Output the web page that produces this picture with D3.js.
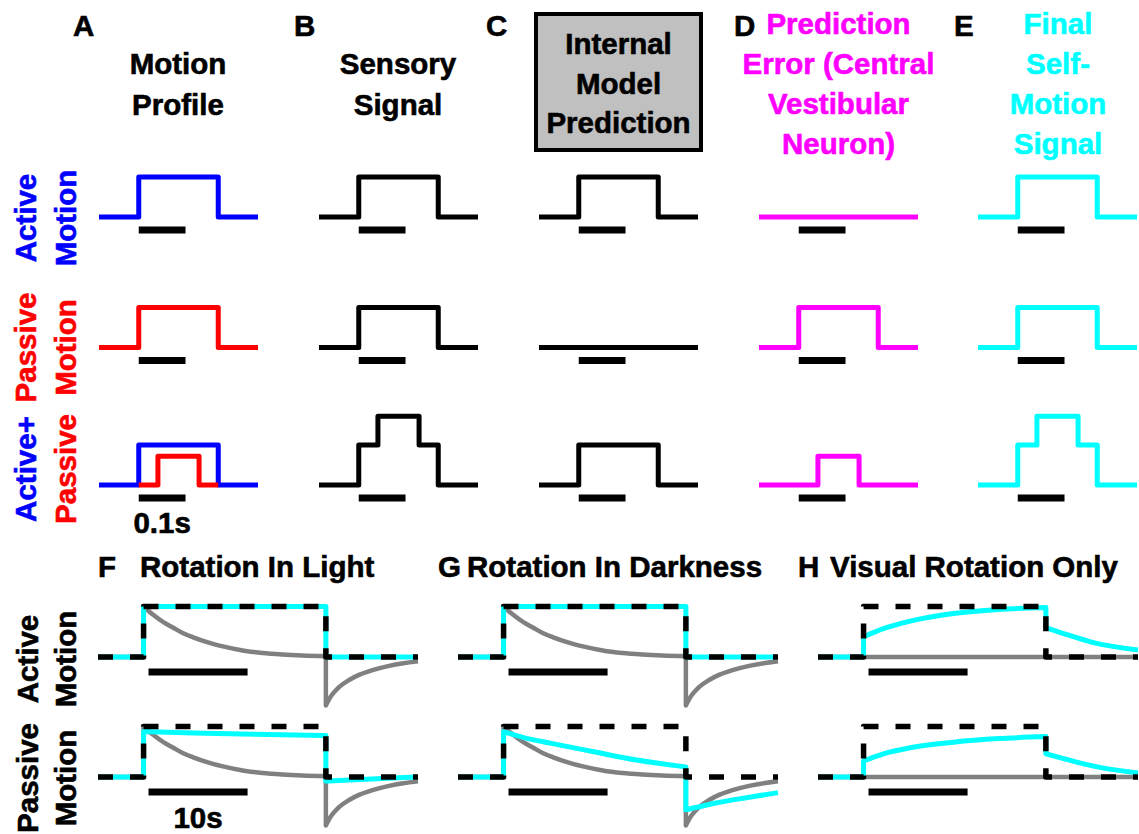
<!DOCTYPE html>
<html>
<head>
<meta charset="utf-8">
<script src="https://cdn.jsdelivr.net/npm/d3@7"></script>
<style>
  body { margin: 0; background: #fff; }
  svg { display: block; font-family: "Liberation Sans", Arial, Helvetica, sans-serif; font-weight: bold; }
  text { stroke-width: 0.6px; }
</style>
</head>
<body>
<script>
// ---------- Top schematic (A–E): step responses, time in ms ----------
const topDomainMs = [0, 340];
const scaleBarMs = [85, 185];                // 0.1 s
const activeStep = [[0, 0], [85, 0], [85, 1], [255, 1], [255, 0], [340, 0]];
const passiveInActive = [[85, 0], [126, 0], [126, 0.72], [214, 0.72], [214, 0], [255, 0]];
const passiveOnly = [[0, 0], [126, 0], [126, 0.72], [214, 0.72], [214, 0], [340, 0]];
const combinedStep = [[0, 0], [85, 0], [85, 1], [126, 1], [126, 1.72], [214, 1.72], [214, 1], [255, 1], [255, 0], [340, 0]];
const flatTrace = [[0, 0], [340, 0]];

const topColumnLetters = ["A", "B", "C", "D", "E"];
const topColumnTitles = [
  ["Motion", "Profile"],
  ["Sensory", "Signal"],
  ["Internal", "Model", "Prediction"],
  ["Prediction", "Error (Central", "Vestibular", "Neuron)"],
  ["Final", "Self-", "Motion", "Signal"]
];
const topRowLabels = [["Active", "Motion"], ["Passive", "Motion"], ["Active+", "Passive"]];

// ---------- Bottom schematic (F–H): rotation responses, time in s ----------
const rotDomainS = [-4.6, 27.7];
const rotScaleBarS = [0.5, 10.5];            // 10 s
const rotProfile = [[-4.6, 0], [0, 0], [0, 1], [18.4, 1], [18.4, 0], [27.7, 0]];
const canalAfferent = [[-4.6, 0], [0, 0], [0, 1], [0.5, 0.91], [1, 0.83], [2, 0.69], [3, 0.58], [4, 0.47],
  [5, 0.39], [6, 0.32], [7, 0.26], [8, 0.21], [10, 0.13], [12, 0.08], [14, 0.05], [16, 0.03], [18.4, 0.015],
  [18.4, -0.96], [18.9, -0.78], [19.7, -0.6], [20.8, -0.45], [21.8, -0.35], [23.1, -0.26], [24.9, -0.17], [27.7, -0.085]];
const noCanalSignal = [[-4.6, 0], [27.7, 0]];
const selfMotionPassiveLight = [[-4.6, 0], [0, 0], [0, 0.9], [5, 0.87], [10, 0.85], [18.4, 0.82],
  [18.4, -0.08], [23, -0.04], [27.7, 0]];
const selfMotionPassiveDark = [[-4.6, 0], [0, 0], [0, 0.9], [2, 0.78], [4.7, 0.67], [9.1, 0.5], [13.6, 0.33], [18.4, 0.2],
  [18.4, -0.65], [19.5, -0.6], [21.3, -0.52], [24.5, -0.41], [27.7, -0.31]];
const visualOnlyActive = [[-4.6, 0], [0, 0], [0, 0.4], [2, 0.56], [4.7, 0.71], [9.1, 0.86], [13.6, 0.94], [18.4, 0.98],
  [18.4, 0.58], [20.1, 0.47], [23.1, 0.29], [27.7, 0.14]];
const visualOnlyPassive = [[-4.6, 0], [0, 0], [0, 0.32], [2, 0.46], [4.7, 0.58], [9.1, 0.69], [13.6, 0.76], [18.4, 0.8],
  [18.4, 0.46], [20.1, 0.37], [23.1, 0.22], [27.7, 0.08]];

const bottomLetters = ["F", "G", "H"];
const bottomTitles = ["Rotation In Light", "Rotation In Darkness", "Visual Rotation Only"];
const bottomRowLabels = [["Active", "Motion"], ["Passive", "Motion"]];

// ---------- colours ----------
const BLUE = "#0000ff", RED = "#ff0000", MAGENTA = "#ff00ff", CYAN = "#00ffff", GRAY = "#808080", BLACK = "#000";

// ---------- layout ----------
const W = 1139, H = 834;
const FONT = 29.5;
const topColX = [99, 319, 539, 759, 978], topColW = 159;
const topRowBase = [217, 347.5, 485], topAmp = 40;
const botColX = [98, 458, 818], botColW = 320;
const botRowBase = [657, 777], botAmp = 50.5;

const svg = d3.select("body").append("svg").attr("width", W).attr("height", H);

function label(x, y, s, color, anchor, transform) {
  const t = svg.append("text").attr("font-size", FONT).attr("fill", color).attr("stroke", color)
    .attr("text-anchor", anchor || "start").text(s);
  if (transform) t.attr("transform", transform); else t.attr("x", x).attr("y", y);
  return t;
}

// cells of the top grid: [row][col] -> traces drawn in order
const topCells = [
  [[{ d: activeStep, c: BLUE }], [{ d: activeStep, c: BLACK }], [{ d: activeStep, c: BLACK }], [{ d: flatTrace, c: MAGENTA }], [{ d: activeStep, c: CYAN }]],
  [[{ d: activeStep, c: RED }], [{ d: activeStep, c: BLACK }], [{ d: flatTrace, c: BLACK }], [{ d: activeStep, c: MAGENTA }], [{ d: activeStep, c: CYAN }]],
  [[{ d: activeStep, c: BLUE }, { d: passiveInActive, c: RED }], [{ d: combinedStep, c: BLACK }], [{ d: activeStep, c: BLACK }], [{ d: passiveOnly, c: MAGENTA }], [{ d: combinedStep, c: CYAN }]]
];

topCells.forEach((row, ri) => {
  row.forEach((traces, ci) => {
    const x = d3.scaleLinear().domain(topDomainMs).range([topColX[ci], topColX[ci] + topColW]);
    const y = d3.scaleLinear().domain([0, 1]).range([topRowBase[ri], topRowBase[ri] - topAmp]);
    const line = d3.line().x(p => x(p[0])).y(p => y(p[1]));
    traces.forEach(t => {
      svg.append("path").attr("d", line(t.d)).attr("fill", "none").attr("stroke", t.c)
        .attr("stroke-width", 5).attr("stroke-linejoin", "round").attr("stroke-linecap", "butt");
    });
    // 0.1 s scale bar
    svg.append("line").attr("x1", x(scaleBarMs[0])).attr("x2", x(scaleBarMs[1]))
      .attr("y1", topRowBase[ri] + 13).attr("y2", topRowBase[ri] + 13)
      .attr("stroke", BLACK).attr("stroke-width", 7);
    if (ri === 2 && ci === 0) {
      label(x((scaleBarMs[0] + scaleBarMs[1]) / 2), 533, "0.1s", BLACK, "middle");
    }
  });
});

// column letters and titles
const letterX = [73, 294, 486, 734, 954];
topColumnLetters.forEach((L, i) => label(letterX[i], 36, L, BLACK));

// grey box behind the internal-model title
svg.append("rect").attr("x", 536).attr("y", 14).attr("width", 165).attr("height", 136)
  .attr("fill", "#c0c0c0").attr("stroke", BLACK).attr("stroke-width", 4);

const titleBaselines = [[74, 115], [74, 115], [54, 94, 133], [34, 74, 114, 154], [34, 74, 114, 154]];
const titleColors = [BLACK, BLACK, BLACK, MAGENTA, CYAN];
const titleCenters = [178, 398, 618.5, 838.5, 1058];
topColumnTitles.forEach((lines, i) => {
  lines.forEach((s, j) => label(titleCenters[i], titleBaselines[i][j], s, titleColors[i], "middle"));
});

// rotated row labels (top)
const topLabelColors = [[BLUE, BLUE], [RED, RED], [BLUE, RED]];
const topLabelCenters = [218, 347.5, 469];
const topLabelX = [35.5, 75.5];
topRowLabels.forEach((pair, ri) => {
  pair.forEach((s, j) => label(0, 0, s, topLabelColors[ri][j], "middle",
    `translate(${topLabelX[j]},${topLabelCenters[ri]}) rotate(-90)`));
});

// ---------- bottom panels ----------
// split a trace at its vertical steps so each continuous piece is smoothed on its own,
// then join the pieces with straight vertical strokes
function steppedCurvePath(points, x, y) {
  const pieces = [[points[0]]];
  for (let i = 1; i < points.length; i++) {
    if (points[i][0] === points[i - 1][0]) pieces.push([points[i]]);
    else pieces[pieces.length - 1].push(points[i]);
  }
  const smooth = d3.line().x(p => x(p[0])).y(p => y(p[1])).curve(d3.curveMonotoneX);
  return pieces.map((pc, i) => {
    const d = pc.length > 1 ? smooth(pc) : `M${x(pc[0][0])},${y(pc[0][1])}`;
    return i === 0 ? d : "L" + d.slice(1);
  }).join("");
}

const bottomCells = [
  [ // active motion row
    { gray: canalAfferent, cyan: rotProfile },
    { gray: canalAfferent, cyan: rotProfile },
    { gray: noCanalSignal, cyan: visualOnlyActive }
  ],
  [ // passive motion row
    { gray: canalAfferent, cyan: selfMotionPassiveLight },
    { gray: canalAfferent, cyan: selfMotionPassiveDark },
    { gray: noCanalSignal, cyan: visualOnlyPassive }
  ]
];

bottomCells.forEach((row, ri) => {
  row.forEach((cell, ci) => {
    const x = d3.scaleLinear().domain(rotDomainS).range([botColX[ci], botColX[ci] + botColW]);
    const y = d3.scaleLinear().domain([0, 1]).range([botRowBase[ri], botRowBase[ri] - botAmp]);
    const straight = d3.line().x(p => x(p[0])).y(p => y(p[1]));
    svg.append("path").attr("d", steppedCurvePath(cell.gray, x, y)).attr("fill", "none")
      .attr("stroke", GRAY).attr("stroke-width", 4.5).attr("stroke-linejoin", "round");
    svg.append("path").attr("d", steppedCurvePath(cell.cyan, x, y)).attr("fill", "none")
      .attr("stroke", CYAN).attr("stroke-width", 5).attr("stroke-linejoin", "round");
    svg.append("path").attr("d", straight(rotProfile)).attr("fill", "none")
      .attr("stroke", BLACK).attr("stroke-width", 5.5).attr("stroke-dasharray", "15,17")
      .attr("stroke-linejoin", "round");
    svg.append("line").attr("x1", x(rotScaleBarS[0])).attr("x2", x(rotScaleBarS[1]))
      .attr("y1", botRowBase[ri] + 15).attr("y2", botRowBase[ri] + 15)
      .attr("stroke", BLACK).attr("stroke-width", 7);
    if (ri === 1 && ci === 0) {
      label(x((rotScaleBarS[0] + rotScaleBarS[1]) / 2), 828, "10s", BLACK, "middle");
    }
  });
});

const bottomLetterX = [98, 438, 798];
const bottomTitleX = [140, 467, 830];
bottomLetters.forEach((L, i) => {
  label(bottomLetterX[i], 577, L, BLACK);
  label(bottomTitleX[i], 577, bottomTitles[i], BLACK);
});

const bottomLabelCenters = [659, 778];
const bottomLabelX = [37.5, 76];
bottomRowLabels.forEach((pair, ri) => {
  pair.forEach((s, j) => label(0, 0, s, BLACK, "middle",
    `translate(${bottomLabelX[j]},${bottomLabelCenters[ri]}) rotate(-90)`));
});
</script>
</body>
</html>
